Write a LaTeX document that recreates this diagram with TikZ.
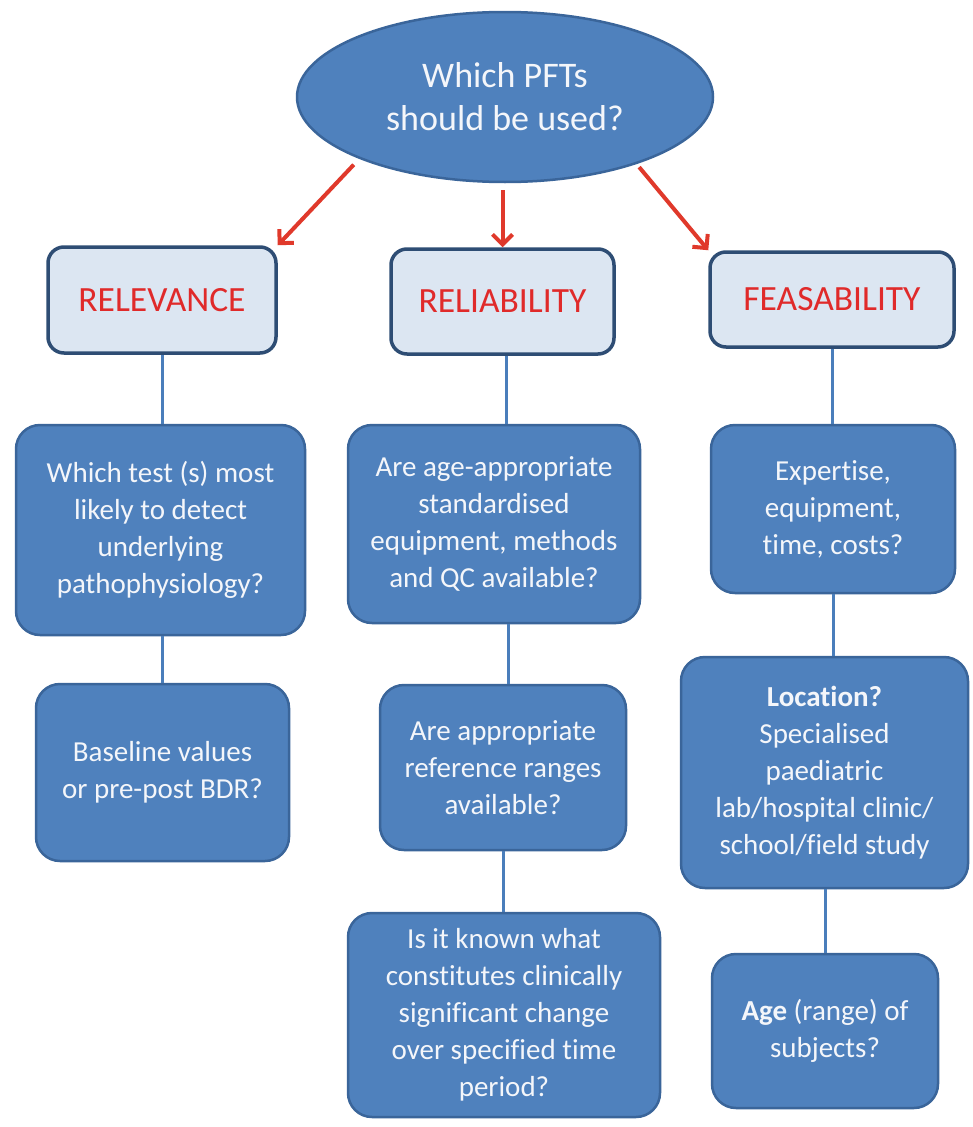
\documentclass[tikz,border=0pt]{standalone}
\usepackage{fontspec}
\setmainfont[Ligatures=NoCommon]{Carlito}
\usetikzlibrary{arrows.meta,shapes.geometric}
\definecolor{boxblue}{HTML}{4F81BD}
\definecolor{boxedge}{HTML}{3A659A}
\definecolor{headfill}{HTML}{DCE6F2}
\definecolor{headedge}{HTML}{2E4D74}
\definecolor{headred}{HTML}{E02A2A}
\definecolor{arrred}{HTML}{E0392B}
\definecolor{linkblue}{HTML}{4A7EBB}
\definecolor{txtwhite}{HTML}{F4F6FA}
\begin{document}
\begin{tikzpicture}[x=1pt,y=-1pt,
  qbox/.style={draw=boxedge, line width=2.5pt, fill=boxblue, rounded corners=24pt,
    text=txtwhite, align=center, font=\fontsize{29}{37}\selectfont, inner sep=0pt},
  hbox/.style={draw=headedge, line width=3.5pt, fill=headfill, rounded corners=16pt,
    text=headred, align=center, font=\fontsize{35.5}{40}\selectfont, inner sep=0pt},
  topell/.style={ellipse, draw=boxedge, line width=2.5pt, fill=boxblue, text=txtwhite,
    align=center, font=\fontsize{36}{43}\selectfont, inner sep=0pt},
  redarrow/.style={draw=arrred, line width=4pt, -{Straight Barb[length=10pt,width=20pt]}},
  link/.style={draw=linkblue, line width=3pt}
]
\fill[white] (0,0) rectangle (973,1127);
\useasboundingbox (0,0) rectangle (973,1127);

\node[topell, minimum width=416pt, minimum height=170pt] (ell) at (505,97)
  {Which PFTs\\should be used?};

\node[hbox, minimum width=228pt, minimum height=106pt] (h1) at (162,300) {RELEVANCE};
\node[hbox, minimum width=223pt, minimum height=105pt] (h2) at (502.5,301.5) {RELIABILITY};
\node[hbox, minimum width=244pt, minimum height=95pt] (h3) at (832,299.5) {FEASABILITY};

\node[qbox, minimum width=289pt, minimum height=210pt] (r1) at (160.5,530)
  {Which test (s) most\\likely to detect\\underlying\\pathophysiology?};
\node[qbox, minimum width=253pt, minimum height=177pt] (r2) at (162.5,772.5)
  {Baseline values\\or pre-post BDR?};

\node[qbox, minimum width=292pt, minimum height=198pt] (m1) at (494,524)
  {Are age-appropriate\\standardised\\equipment, methods\\and QC available?};
\node[qbox, minimum width=246pt, minimum height=165pt] (m2) at (503,767.5)
  {Are appropriate\\reference ranges\\available?};
\node[qbox, minimum width=312pt, minimum height=204pt] (m3) at (504,1015)
  {Is it known what\\constitutes clinically\\significant change\\over specified time\\period?};

\node[qbox, minimum width=244pt, minimum height=168pt] (f1) at (833,509)
  {Expertise,\\equipment,\\time, costs?};
\node[qbox, minimum width=287pt, minimum height=231pt] (f2) at (824.5,772.5)
  {\textbf{Location?}\\Specialised\\paediatric\\lab/hospital clinic/\\school/field study};
\node[qbox, minimum width=226pt, minimum height=154pt] (f3) at (825,1031)
  {\textbf{Age} (range) of\\subjects?};

% red arrows
\draw[redarrow, shorten <=8pt] (ell.-157) -- (h1.north east);
\draw[redarrow, shorten <=7pt] (h2.north |- ell.south) -- (h2.north);
\draw[redarrow, shorten <=4pt] (ell.-27) -- (h3.north west);

% connectors
\draw[link] (h1.south) -- (h1.south |- r1.north);
\draw[link] (r1.south -| r2.north) -- (r2.north);
\draw[link] ([xshift=3.5pt]h2.south) -- ([xshift=3.5pt]h2.south |- m1.north);
\draw[link] ([xshift=5pt]m2.north |- m1.south) -- ([xshift=5pt]m2.north);
\draw[link] (m2.south) -- (m2.south |- m3.north);
\draw[link] (h3.south) -- (h3.south |- f1.north);
\draw[link] (f1.south) -- (f1.south |- f2.north);
\draw[link] (f3.north |- f2.south) -- (f3.north);
\end{tikzpicture}
\end{document}
